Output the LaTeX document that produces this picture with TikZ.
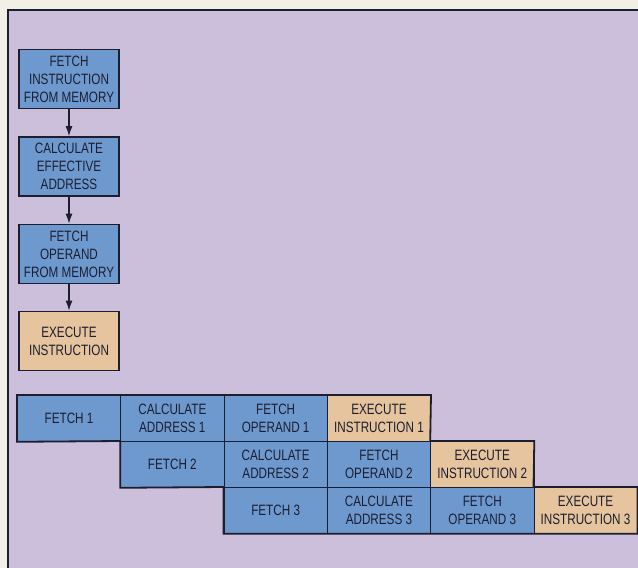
\documentclass[tikz,border=0pt]{standalone}
\usepackage{fontspec}
\setmainfont{Liberation Sans}[FakeStretch=0.78]
\usetikzlibrary{arrows.meta}
\definecolor{cream}{RGB}{241,239,230}
\definecolor{lav}{RGB}{204,191,219}
\definecolor{boxblue}{RGB}{110,153,207}
\definecolor{boxtan}{RGB}{230,196,158}
\definecolor{ink}{RGB}{28,30,48}
\begin{document}
\begin{tikzpicture}[x=1pt,y=-1pt,
  flow/.style={draw=ink,line width=1.8pt,minimum width=100pt,minimum height=59pt,
    inner sep=0pt,align=center,text=ink,font=\fontsize{15}{18}\selectfont},
  cell/.style={draw=ink,line width=0.8pt,minimum width=103.3pt,minimum height=46pt,
    inner sep=0pt,align=center,text=ink,font=\fontsize{15}{17.5}\selectfont,anchor=north west},
  blue/.style={fill=boxblue},
  tan/.style={fill=boxtan},
  arr/.style={draw=ink,line width=1.1pt,-{Latex[length=10pt,width=7pt]}},
  outline/.style={draw=ink,line width=1.8pt,line join=miter}]
\useasboundingbox (0,0) rectangle (638,568);
\fill[cream] (0,0) rectangle (638,568);
\fill[lav] (8,10) rectangle (640,570);
\draw[ink,line width=1.8pt] (8,570) -- (8,10) -- (640,10);

% flowchart
\node[flow,blue] (f1) at (69,79) {FETCH\\INSTRUCTION\\FROM MEMORY};
\node[flow,blue] (f2) at (69,166.5) {CALCULATE\\EFFECTIVE\\ADDRESS};
\node[flow,blue] (f3) at (69,254) {FETCH\\OPERAND\\FROM MEMORY};
\node[flow,tan] (f4) at (69,341) {EXECUTE\\INSTRUCTION};
\draw[arr] (f1) -- (f2);
\draw[arr] (f2) -- (f3);
\draw[arr] (f3) -- (f4);

% pipeline
\def\cw{103.3}
\node[cell,blue] (a1) at (17,395) {FETCH 1};
\node[cell,blue] (a2) at (17+\cw,395) {CALCULATE\\ADDRESS 1};
\node[cell,blue] (a3) at (17+2*\cw,395) {FETCH\\OPERAND 1};
\node[cell,tan]  (a4) at (17+3*\cw,395) {EXECUTE\\INSTRUCTION 1};
\node[cell,blue] (b2) at (17+\cw,441) {FETCH 2};
\node[cell,blue] (b3) at (17+2*\cw,441) {CALCULATE\\ADDRESS 2};
\node[cell,blue] (b4) at (17+3*\cw,441) {FETCH\\OPERAND 2};
\node[cell,tan]  (b5) at (17+4*\cw,441) {EXECUTE\\INSTRUCTION 2};
\node[cell,blue] (c3) at (17+2*\cw,487) {FETCH 3};
\node[cell,blue] (c4) at (17+3*\cw,487) {CALCULATE\\ADDRESS 3};
\node[cell,blue] (c5) at (17+4*\cw,487) {FETCH\\OPERAND 3};
\node[cell,tan]  (c6) at (17+5*\cw,487) {EXECUTE\\INSTRUCTION 3};
\draw[outline] (a1.north west) -- (a4.north east) -- (b5.north west) -- (b5.north east)
  -- (c6.north west) -- (c6.north east) -- (c6.south east) -- (c3.south west)
  -- (c3.north west) -- (b2.south west) -- (b2.north west) -- (a1.south west) -- cycle;
\end{tikzpicture}
\end{document}
